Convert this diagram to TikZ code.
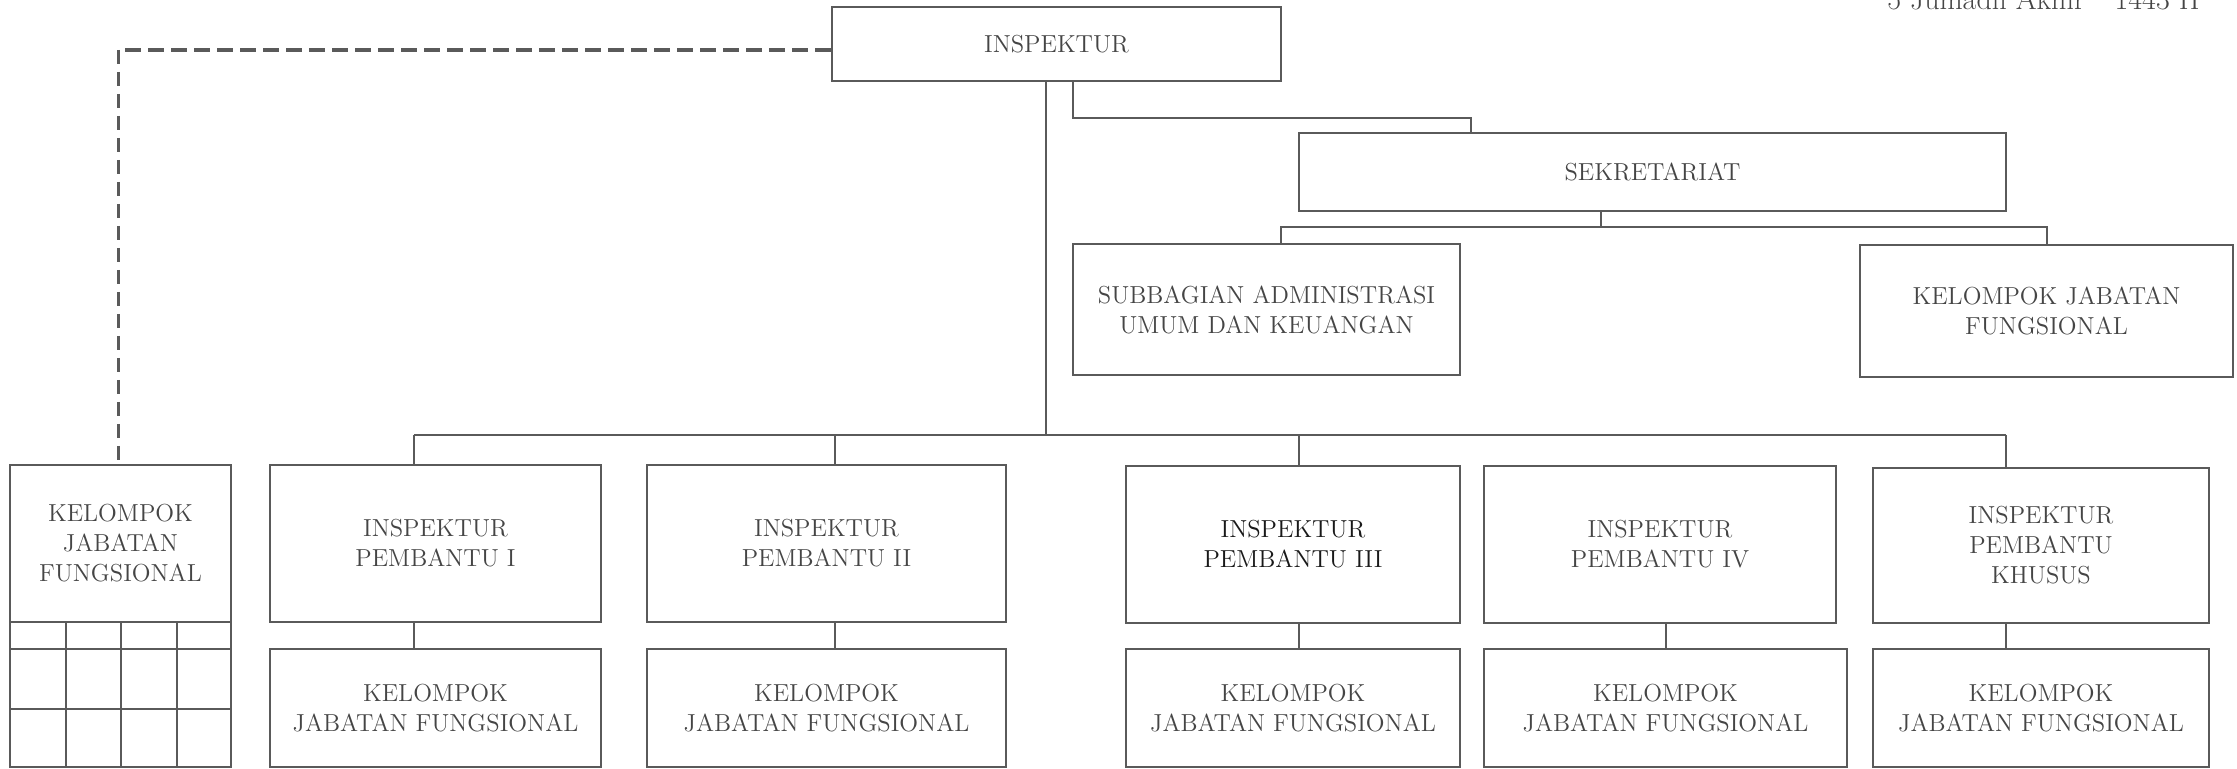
\documentclass[tikz,border=0pt]{standalone}
\usepackage{fontspec}
\definecolor{linec}{HTML}{5A5A5A}
\definecolor{textc}{HTML}{454545}
\tikzset{
  orgbox/.style={draw=linec, line width=1.3pt, inner sep=2pt, align=center,
    text=textc, font=\fontsize{12.3}{15}\selectfont},
  conn/.style={draw=linec, line width=1.3pt},
  dashhor/.style={draw=linec, line width=2.2pt, dash pattern=on 8pt off 3.5pt},
  dashver/.style={draw=linec, line width=1.5pt, dash pattern=on 7pt off 4pt},
}
\begin{document}
\begin{tikzpicture}[x=0.5pt, y=-0.5pt]
\useasboundingbox (0,0) rectangle (2237,769);
\clip (0,0) rectangle (2237,769);

% header fragment (cut off at the top edge, as in the reference)
\node[anchor=base east, text=textc, font=\fontsize{15}{17}\selectfont, inner sep=0pt] (hdr) at (2200,10) {5 Jumadil Akhir\quad 1443 H};

% boxes
\node[orgbox, minimum width=224.5pt, minimum height=37pt] (insp) at (1056.5,44) {INSPEKTUR};
\node[orgbox, minimum width=353.5pt, minimum height=39pt] (sek) at (1652.5,172) {SEKRETARIAT};
\node[orgbox, minimum width=193.5pt, minimum height=65.5pt] (sub) at (1266.5,309.5) {SUBBAGIAN ADMINISTRASI\\UMUM DAN KEUANGAN};
\node[orgbox, minimum width=186.5pt, minimum height=66pt] (kjfs) at (2046.5,311) {KELOMPOK JABATAN\\FUNGSIONAL};

\node[orgbox, minimum width=110.5pt, minimum height=78.5pt] (leftk) at (120.5,543.5) {KELOMPOK\\JABATAN\\FUNGSIONAL};

\node[orgbox, minimum width=165.5pt, minimum height=78.5pt] (ip1) at (435.5,543.5) {INSPEKTUR\\PEMBANTU I};
\node[orgbox, minimum width=179.5pt, minimum height=78.5pt] (ip2) at (826.5,543.5) {INSPEKTUR\\PEMBANTU II};
\node[orgbox, minimum width=167pt, minimum height=78.5pt, text=black!90] (ip3) at (1293,544.5) {INSPEKTUR\\PEMBANTU III};
\node[orgbox, minimum width=176pt, minimum height=78.5pt] (ip4) at (1660,544.5) {INSPEKTUR\\PEMBANTU IV};
\node[orgbox, minimum width=168pt, minimum height=77.5pt] (ipk) at (2041,545.5) {INSPEKTUR\\PEMBANTU\\KHUSUS};

\node[orgbox, minimum width=165.5pt, minimum height=59pt] (k1) at (435.5,708) {KELOMPOK\\JABATAN FUNGSIONAL};
\node[orgbox, minimum width=179.5pt, minimum height=59pt] (k2) at (826.5,708) {KELOMPOK\\JABATAN FUNGSIONAL};
\node[orgbox, minimum width=167pt, minimum height=59pt] (k3) at (1293,708) {KELOMPOK\\JABATAN FUNGSIONAL};
\node[orgbox, minimum width=181.5pt, minimum height=59pt] (k4) at (1665.5,708) {KELOMPOK\\JABATAN FUNGSIONAL};
\node[orgbox, minimum width=168pt, minimum height=59pt] (k5) at (2041,708) {KELOMPOK\\JABATAN FUNGSIONAL};

% grid under the left box
\draw[conn] (10,622) rectangle (231,767);
\draw[conn] (10,649) -- (231,649);
\draw[conn] (10,709) -- (231,709);
\draw[conn] (66,622) -- (66,767);
\draw[conn] (121,622) -- (121,767);
\draw[conn] (177,622) -- (177,767);

% coordinates for connectors
\coordinate (t) at (1046,435);
\coordinate (b1) at (414,435);
\coordinate (b2) at (835,435);
\coordinate (b3) at (1299,435);
\coordinate (b5) at (2006,435);
\coordinate (x4) at (1666,435);
\coordinate (s1) at (1073,118);
\coordinate (s2) at (1471,118);
\coordinate (u0) at (1601,227);
\coordinate (u1) at (1281,227);
\coordinate (u2) at (2047,227);
\coordinate (d1) at (118,50);

% trunk and bus
\draw[conn] (t |- insp.south) -- (t);
\draw[conn] (b1) -- (b5);
\draw[conn] (b1) -- (b1 |- ip1.north);
\draw[conn] (b2) -- (b2 |- ip2.north);
\draw[conn] (b3) -- (b3 |- ip3.north);
\draw[conn] (b5) -- (b5 |- ipk.north);

% to lower boxes
\draw[conn] (b1 |- ip1.south) -- (b1 |- k1.north);
\draw[conn] (b2 |- ip2.south) -- (b2 |- k2.north);
\draw[conn] (b3 |- ip3.south) -- (b3 |- k3.north);
\draw[conn] (x4 |- ip4.south) -- (x4 |- k4.north);
\draw[conn] (b5 |- ipk.south) -- (b5 |- k5.north);

% secretariat branch
\draw[conn] (s1 |- insp.south) -- (s1) -- (s2) -- (s2 |- sek.north);
\draw[conn] (u0 |- sek.south) -- (u0);
\draw[conn] (u1 |- sub.north) -- (u1) -- (u2) -- (u2 |- kjfs.north);

% dashed line to functional group
\draw[dashhor] (insp.west |- d1) -- (d1);
\draw[dashver] (d1) -- (d1 |- leftk.north);
\end{tikzpicture}
\end{document}
